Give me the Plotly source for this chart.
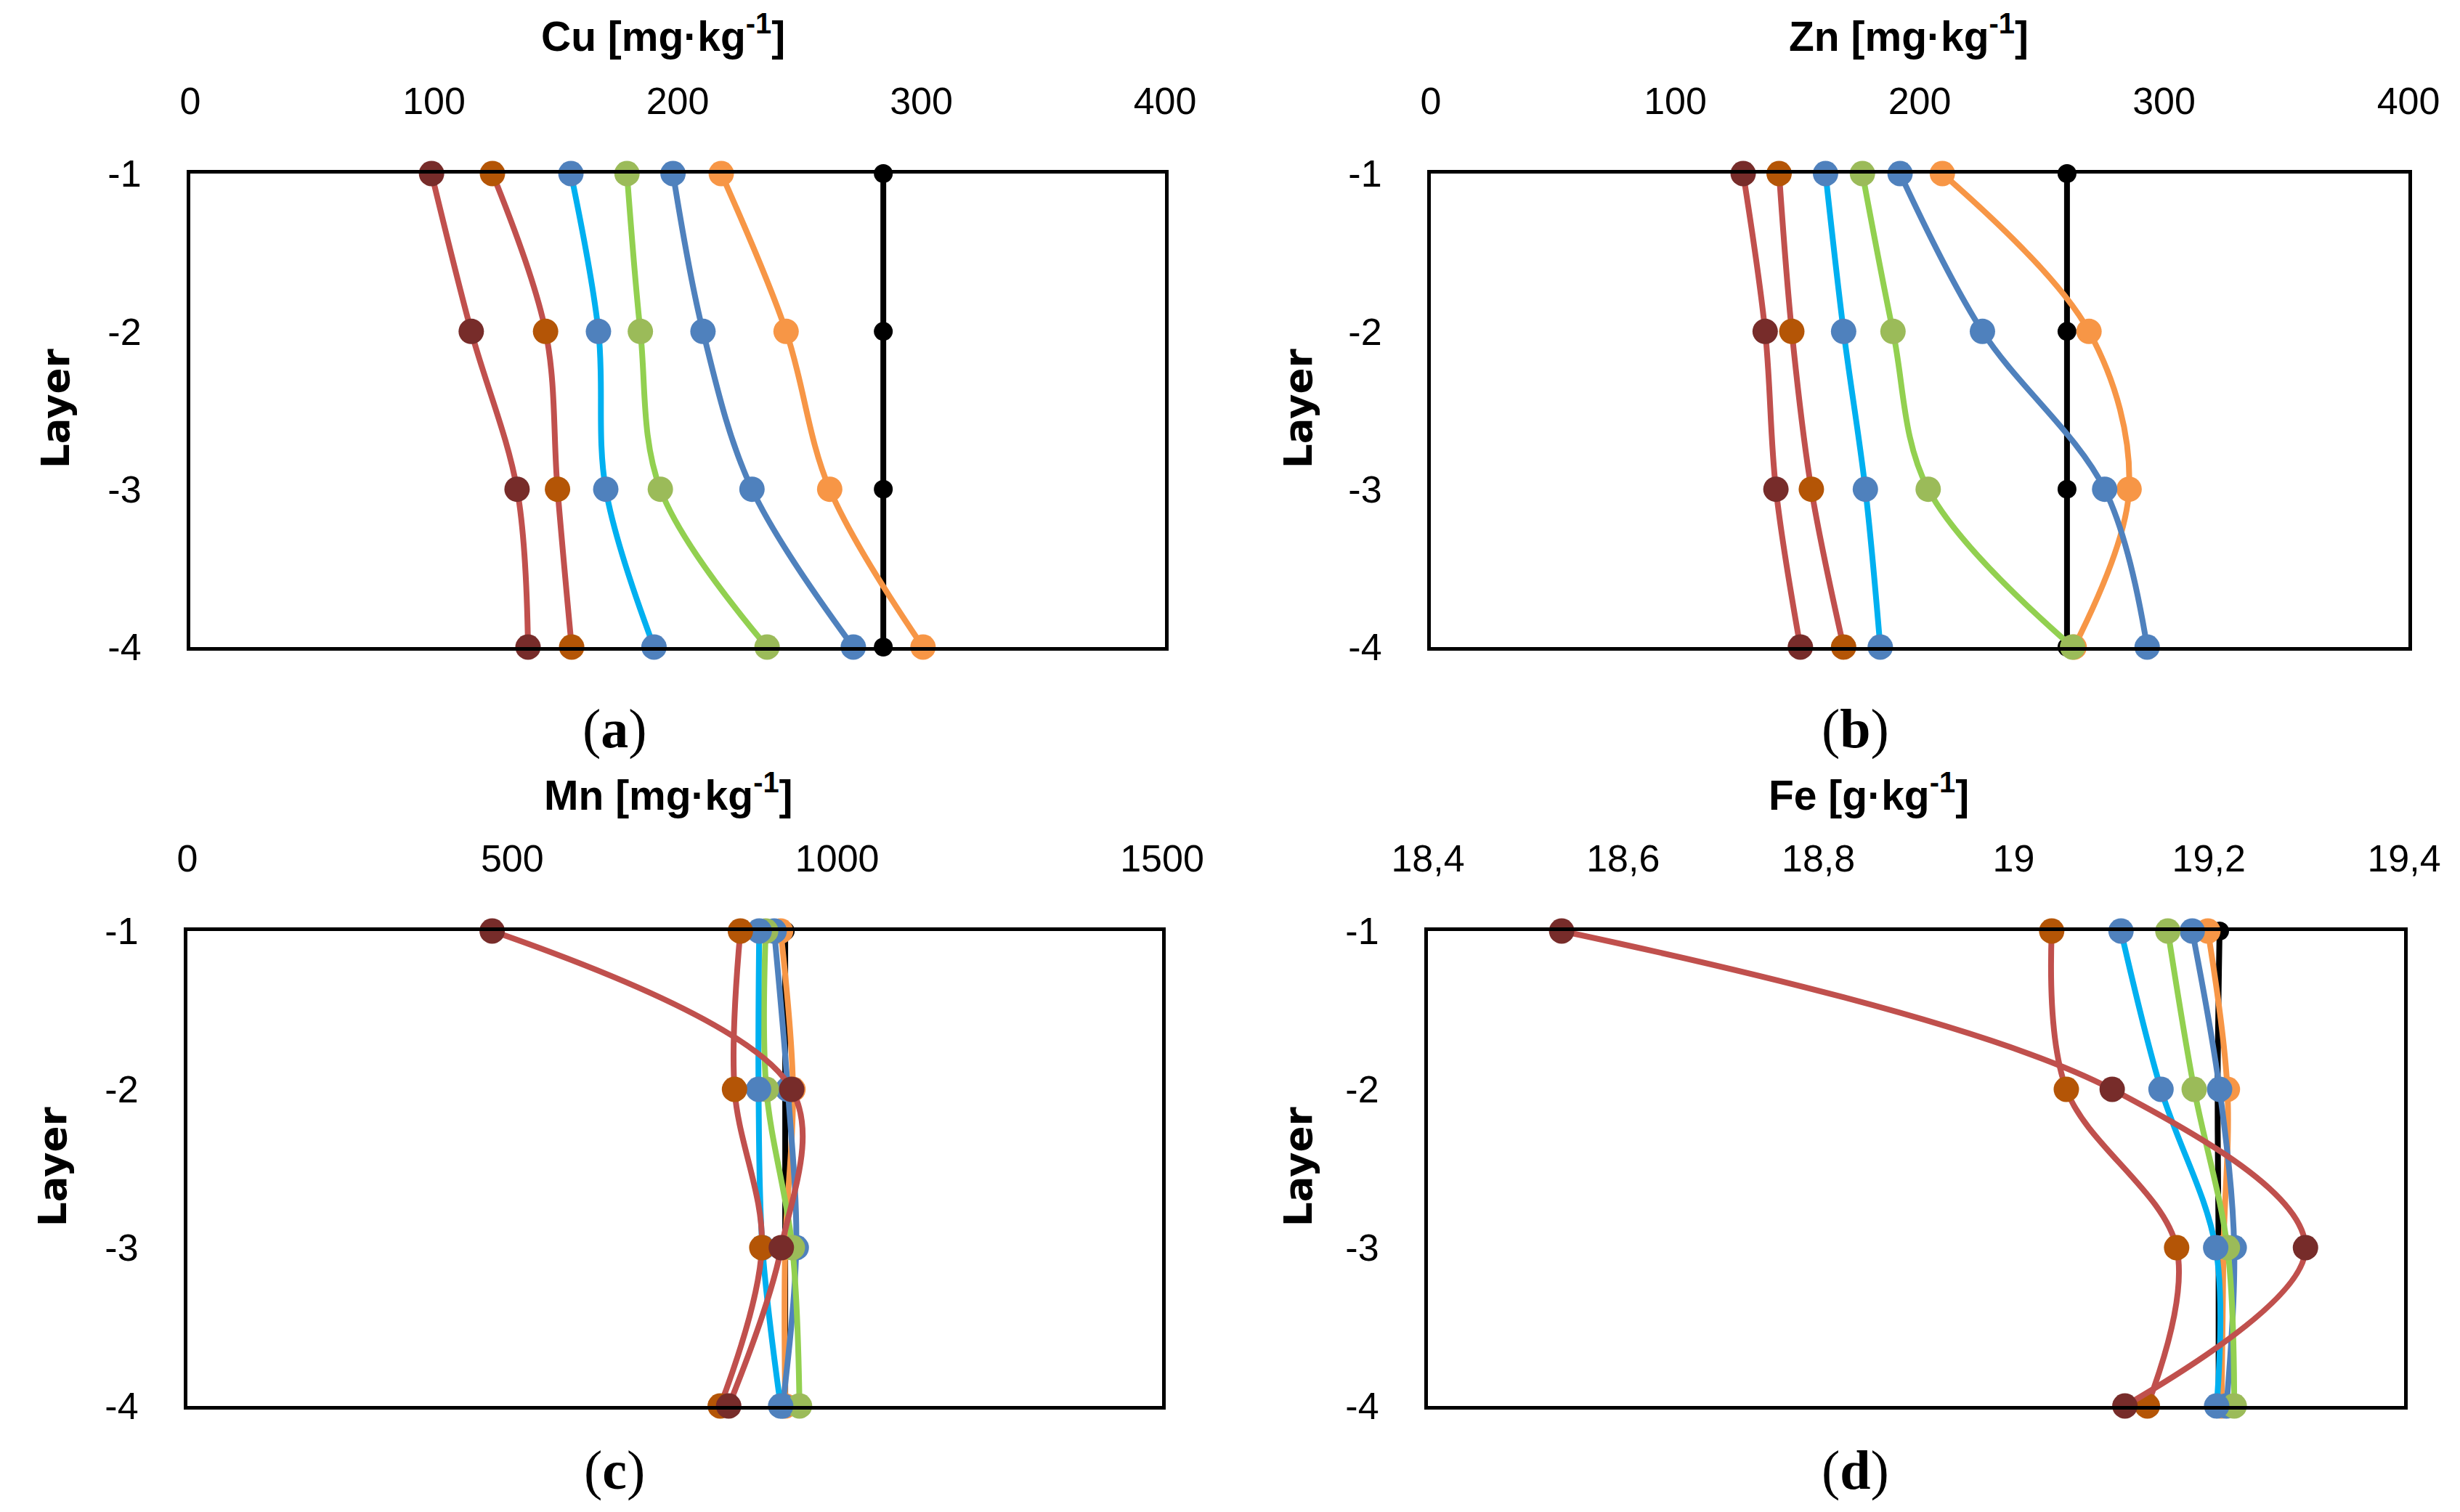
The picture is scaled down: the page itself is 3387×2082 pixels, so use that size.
import plotly.graph_objects as go

# ---------------- data ----------------
layers = [-1, -2, -3, -4]
layer_ticks = ["-1", "-2", "-3", "-4"]

# Cu [mg/kg]
cu_s1 = [99.0, 115.3, 134.1, 138.6]
cu_s2 = [124.0, 145.8, 150.7, 156.5]
cu_s3 = [156.2, 167.5, 170.5, 190.3]
cu_s4 = [179.2, 184.7, 192.9, 236.7]
cu_s5 = [198.1, 210.4, 230.5, 272.1]
cu_s6 = [217.9, 244.5, 262.4, 300.7]
cu_s7 = [284.4, 284.4, 284.4, 284.4]

# Zn [mg/kg]
zn_s1 = [127.8, 136.8, 141.2, 151.2]
zn_s2 = [142.5, 147.7, 155.7, 168.9]
zn_s3 = [161.5, 168.9, 177.8, 183.9]
zn_s4 = [176.6, 189.1, 203.5, 262.6]
zn_s5 = [192.0, 225.7, 275.7, 293.1]
zn_s6 = [209.3, 269.3, 285.7, 263.2]
zn_s7 = [260.3, 260.3, 260.3, 260.3]

# Mn [mg/kg]
mn_s1 = [469, 930, 914, 833]
mn_s2 = [851, 842, 884, 820]
mn_s3 = [880, 879, 885, 913]
mn_s4 = [890, 891, 931, 942]
mn_s5 = [903, 924, 937, 916]
mn_s6 = [913, 932, 920, 920]
mn_s7 = [920, 920, 920, 920]

# Fe [g/kg]
fe_s1 = [18.537, 19.101, 19.299, 19.114]
fe_s2 = [19.039, 19.054, 19.167, 19.137]
fe_s3 = [19.110, 19.151, 19.207, 19.208]
fe_s4 = [19.158, 19.185, 19.219, 19.226]
fe_s5 = [19.183, 19.211, 19.226, 19.218]
fe_s6 = [19.199, 19.219, 19.215, 19.213]
fe_s7 = [19.211, 19.209, 19.210, 19.210]

cu_ticks = [0, 100, 200, 300, 400]
zn_ticks = [0, 100, 200, 300, 400]
mn_ticks = [0, 500, 1000, 1500]
fe_ticks = [18.4, 18.6, 18.8, 19.0, 19.2, 19.4]
fe_ticktext = ["18,4", "18,6", "18,8", "19", "19,2", "19,4"]

panel_titles = ["Cu [mg·kg<sup>-1</sup>]", "Zn [mg·kg<sup>-1</sup>]",
                "Mn [mg·kg<sup>-1</sup>]", "Fe [g·kg<sup>-1</sup>]"]
panel_letters = ["a", "b", "c", "d"]

# ---------------- styles ----------------
line_colors = ["#C0504D", "#C0504D", "#00B0F0", "#92D050", "#4F81BD", "#F79646", "#000000"]
marker_colors = ["#772C2A", "#B45506", "#4F81BD", "#9BBB59", "#4F81BD", "#F79646", "#000000"]
marker_sizes = [35, 35, 35, 35, 35, 35, 26]
draw_order = [6, 5, 4, 3, 2, 1, 0]

W, H = 3387, 2082
TICK_FONT = "Liberation Sans, Arial, sans-serif"

panels = [
    dict(series=[cu_s1, cu_s2, cu_s3, cu_s4, cu_s5, cu_s6, cu_s7], rng=[0, 400],
         tv=cu_ticks, tt=[str(t) for t in cu_ticks],
         box=(254, 1596, 231, 883), title_x=905, title_y=38, layer_x=68, letter=(838, 995)),
    dict(series=[zn_s1, zn_s2, zn_s3, zn_s4, zn_s5, zn_s6, zn_s7], rng=[0, 400],
         tv=zn_ticks, tt=[str(t) for t in zn_ticks],
         box=(1962, 3308, 231, 883), title_x=2620, title_y=38, layer_x=1779, letter=(2546, 995)),
    dict(series=[mn_s1, mn_s2, mn_s3, mn_s4, mn_s5, mn_s6, mn_s7], rng=[0, 1500],
         tv=mn_ticks, tt=[str(t) for t in mn_ticks],
         box=(250, 1592, 1274, 1928), title_x=912, title_y=1083, layer_x=64, letter=(838, 2016)),
    dict(series=[fe_s1, fe_s2, fe_s3, fe_s4, fe_s5, fe_s6, fe_s7], rng=[18.4, 19.4],
         tv=fe_ticks, tt=fe_ticktext,
         box=(1958, 3302, 1274, 1928), title_x=2565, title_y=1083, layer_x=1779, letter=(2546, 2016)),
]

fig = go.Figure()
annotations = []

for i, p in enumerate(panels):
    n = "" if i == 0 else str(i + 1)
    xa, ya = "x" + n, "y" + n
    x0, x1, y0, y1 = p["box"]
    for k in draw_order:
        fig.add_trace(go.Scatter(
            x=p["series"][k], y=layers, xaxis=xa, yaxis=ya,
            mode="lines+markers", cliponaxis=False, showlegend=False,
            name="Series %d" % (k + 1),
            line=dict(color=line_colors[k], width=8, shape="spline", smoothing=1),
            marker=dict(color=marker_colors[k], size=marker_sizes[k], line=dict(width=0)),
        ))
    fig.layout["xaxis" + n] = dict(
        domain=[x0 / W, x1 / W], anchor=ya, side="top", range=p["rng"],
        tickmode="array", tickvals=p["tv"], ticktext=p["tt"], automargin=False,
        showgrid=False, zeroline=False, showline=True, mirror=True,
        linecolor="black", linewidth=5,
        ticks="outside", ticklen=56, tickcolor="rgba(0,0,0,0)",
        tickfont=dict(family=TICK_FONT, size=52, color="black"),
    )
    fig.layout["yaxis" + n] = dict(
        domain=[1 - y1 / H, 1 - y0 / H], anchor=xa, range=[-4, -1],
        tickmode="array", tickvals=layers, ticktext=layer_ticks, automargin=False,
        showgrid=False, zeroline=False, showline=True, mirror=True,
        linecolor="black", linewidth=5,
        ticks="outside", ticklen=52, tickcolor="rgba(0,0,0,0)",
        tickfont=dict(family=TICK_FONT, size=52, color="black"),
    )
    annotations.append(dict(
        text="<b>" + panel_titles[i] + "</b>", x=p["title_x"] / W, y=1 - p["title_y"] / H,
        xref="paper", yref="paper", showarrow=False, xanchor="center", yanchor="middle",
        font=dict(family=TICK_FONT, size=57, color="black")))
    annotations.append(dict(
        text="<b>Layer</b>", x=p["layer_x"] / W, y=1 - ((y0 + y1) / 2 - 2) / H,
        xref="paper", yref="paper", showarrow=False, textangle=-90,
        xanchor="center", yanchor="middle",
        font=dict(family="DejaVu Sans", size=53, color="black")))
    annotations.append(dict(
        text="(<b>" + panel_letters[i] + "</b>)", x=p["letter"][0] / W, y=1 - p["letter"][1] / H,
        xref="paper", yref="paper", showarrow=False, xanchor="center", yanchor="middle",
        font=dict(family="Liberation Serif, DejaVu Serif, serif", size=76, color="black")))

fig.update_layout(
    width=W, height=H, margin=dict(l=0, r=0, t=0, b=0, autoexpand=False),
    paper_bgcolor="white", plot_bgcolor="white",
    font=dict(family=TICK_FONT, color="black"),
    annotations=annotations,
)

fig.write_html("out.html")
